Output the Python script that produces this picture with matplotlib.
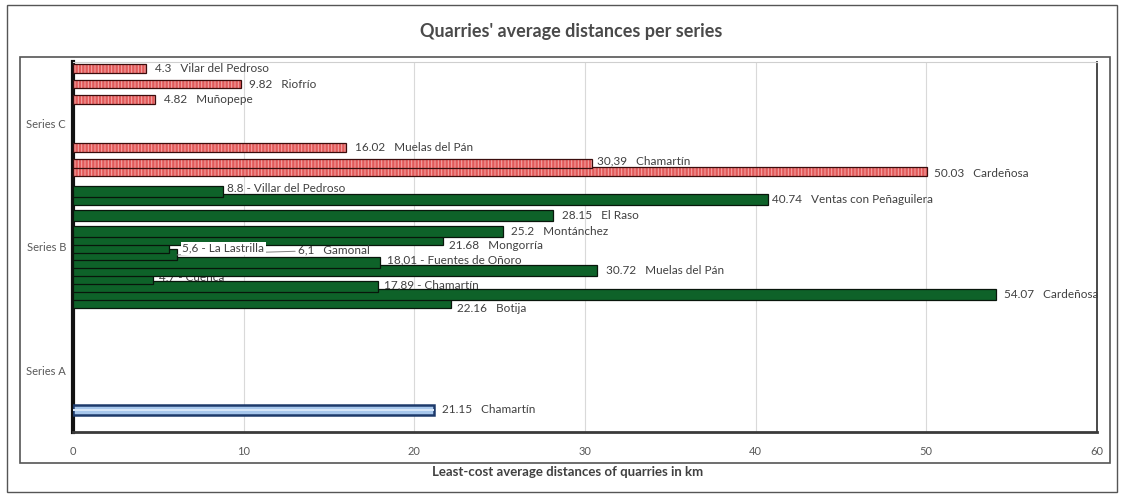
import matplotlib
matplotlib.use("Agg")
import matplotlib.pyplot as plt
from matplotlib.patches import Rectangle

plt.rcParams['font.family'] = ['Lato', 'DejaVu Sans']
plt.rcParams['hatch.linewidth'] = 0.7

# Quarries, one slot each inside every series group (top to bottom)
quarries = ["Villar del Pedroso", "Ventas con Peñaguilera", "Riofrío", "El Raso",
            "Muñopepe", "Montánchez", "Mongorría", "La Lastrilla", "Gamonal",
            "Fuentes de Oñoro", "Muelas del Pán", "Cuenca", "Chamartín",
            "Cardeñosa", "Botija"]

series_names = ["Series A", "Series B", "Series C"]

# Average least-cost distances (km); None = quarry not used in that series
series_a_km = [None, None, None, None, None, None, None, None, None,
               None, None, None, 21.15, None, None]
series_b_km = [8.8, 40.74, None, 28.15, None, 25.2, 21.68, 5.6, 6.1,
               18.01, 30.72, 4.7, 17.89, 54.07, 22.16]
series_c_km = [4.3, None, 9.82, None, 4.82, None, None, None, None,
               None, 16.02, None, 30.39, 50.03, None]

# Names as written on the data labels
series_a_names = [None] * 12 + ["Chamartín", None, None]
series_b_names = ["Villar del Pedroso", "Ventas con Peñaguilera", None, "El Raso",
                  None, "Montánchez", "Mongorría", "La Lastrilla", "Gamonal",
                  "Fuentes de Oñoro", "Muelas del Pán", "Cuenca", "Chamartín",
                  "Cardeñosa", "Botija"]
series_c_names = ["Vilar del Pedroso", None, "Riofrío", None, "Muñopepe", None,
                  None, None, None, None, "Muelas del Pán", None, "Chamartín",
                  "Cardeñosa", None]

# Label formats: decimal comma and " - " joiner used on some labels
comma_labels = {("B", "La Lastrilla"), ("B", "Gamonal"), ("B", "Fuentes de Oñoro"),
                ("B", "Cuenca"), ("B", "Chamartín"), ("C", "Chamartín")}
dash_labels = {("B", "Villar del Pedroso"), ("B", "La Lastrilla"),
               ("B", "Fuentes de Oñoro"), ("B", "Cuenca"), ("B", "Chamartín")}

fig = plt.figure(figsize=(11.24, 4.95), dpi=100)
ax = fig.add_axes([73 / 1124, 1 - 432 / 495, 1024 / 1124, 370 / 495])

slot_step = 0.0643

styles = {
    "A": dict(color="#a7c7ec", edge="#1d3a6b", lw=1.8, hatch=None, h=0.08),
    "B": dict(color="#0e6229", edge="#08160b", lw=0.9, hatch=None, h=0.09),
    "C": dict(color="#e25a5a", edge="#3b0d0d", lw=0.9, hatch="|||||", h=0.072),
}

# label nudges in points (dx, dy)
nudges = {
    ("B", "Villar del Pedroso"): (3, 2.5),
    ("B", "Ventas con Peñaguilera"): (3, 0),
    ("B", "Mongorría"): (4, -4.5),
    ("B", "Botija"): (4, -4.5),
    ("B", "La Lastrilla"): (10, -1),
    ("B", "Gamonal"): (87, 3.5),
    ("B", "Fuentes de Oñoro"): (5, 2),
    ("B", "Cuenca"): (4, 1),
    ("B", "Chamartín"): (4, 1.5),
    ("C", "Chamartín"): (4, 1.5),
    ("C", "Cardeñosa"): (5, -1.5),
}

text_color = "#404040"
groups = [("A", 0, series_a_km, series_a_names),
          ("B", 1, series_b_km, series_b_names),
          ("C", 2, series_c_km, series_c_names)]

for key, g, vals, names in groups:
    st = styles[key]
    bar_h = st["h"]
    for k, (v, nm) in enumerate(zip(vals, names)):
        if v is None:
            continue
        y = g + (7 - k) * slot_step
        z = 3 + (15 - k) * 0.01
        if st["hatch"]:
            ax.barh(y, v, height=bar_h, color=st["color"], edgecolor="#f4aaaa",
                    hatch=st["hatch"], linewidth=0, zorder=z)
            ax.barh(y, v, height=bar_h, fill=False, edgecolor=st["edge"],
                    linewidth=st["lw"], zorder=z + 0.001)
        else:
            ax.barh(y, v, height=bar_h, color=st["color"], edgecolor=st["edge"],
                    linewidth=st["lw"], zorder=z)
        if key == "A":
            ax.barh(y, v, height=bar_h * 0.25, color="#d6e6f8", linewidth=0,
                    zorder=z + 0.002)

        num = f"{v:g}"
        if (key, nm) in comma_labels:
            num = num.replace(".", ",")
        joiner = " - " if (key, nm) in dash_labels else "   "
        label = num + joiner + nm
        dx, dy = nudges.get((key, nm), (6, 0))
        # the Cuenca label sits underneath the neighbouring bar
        lz = 2 if (key, nm) == ("B", "Cuenca") else 5
        kw = dict(fontsize=8.5, color=text_color, ha="left", va="center",
                  textcoords="offset points", zorder=lz)
        if (key, nm) == ("B", "Gamonal"):
            ax.annotate(label, xy=(v, y), xytext=(dx, dy),
                        arrowprops=dict(arrowstyle="-", color="#7f7f7f", lw=0.7,
                                        shrinkA=0, shrinkB=0,
                                        connectionstyle="arc3"), **kw)
        elif (key, nm) == ("B", "La Lastrilla"):
            kw["zorder"] = 5.5
            ax.annotate(label, xy=(v, y), xytext=(dx, dy),
                        bbox=dict(boxstyle="square,pad=0.1", fc="white", ec="none"),
                        **kw)
        else:
            ax.annotate(label, xy=(v, y), xytext=(dx, dy), **kw)

ax.set_xlim(0, 60)
ax.set_ylim(-0.5, 2.5)
ax.set_xticks(range(0, 61, 10))
ax.set_yticks([0, 1, 2])
ax.set_yticklabels(series_names)
ax.tick_params(axis="x", length=0, pad=10, labelsize=8, labelcolor="#595959")
ax.tick_params(axis="y", length=0, pad=5, labelsize=8, labelcolor="#595959")
ax.grid(axis="x", color="#d9d9d9", linewidth=0.8, zorder=0)
ax.set_axisbelow(True)

ax.spines["left"].set_color("#111111")
ax.spines["left"].set_linewidth(3)
ax.spines["bottom"].set_color("#3a3a3a")
ax.spines["bottom"].set_linewidth(2)
ax.spines["right"].set_color("#4a4a4a")
ax.spines["right"].set_linewidth(1.4)
ax.spines["top"].set_color("#cfcfcf")
ax.spines["top"].set_linewidth(0.8)

fig.text(0.508, 1 - 31 / 495, "Quarries' average distances per series",
         ha="center", va="center", fontsize=13, fontweight="bold", color="#4a4a4a")
fig.text(0.505, 1 - 472 / 495, "Least-cost average distances of quarries in km",
         ha="center", va="center", fontsize=9.5, fontweight="bold", color="#404040")

fig.add_artist(Rectangle((7 / 1124, 1 - 492 / 495), 1110 / 1124, 487 / 495,
                         transform=fig.transFigure, fill=False,
                         edgecolor="#555555", linewidth=1.0))
fig.add_artist(Rectangle((20 / 1124, 1 - 463 / 495), 1090 / 1124, 406 / 495,
                         transform=fig.transFigure, fill=False,
                         edgecolor="#555555", linewidth=1.2))

fig.savefig("out.png", dpi=100, facecolor="white")
